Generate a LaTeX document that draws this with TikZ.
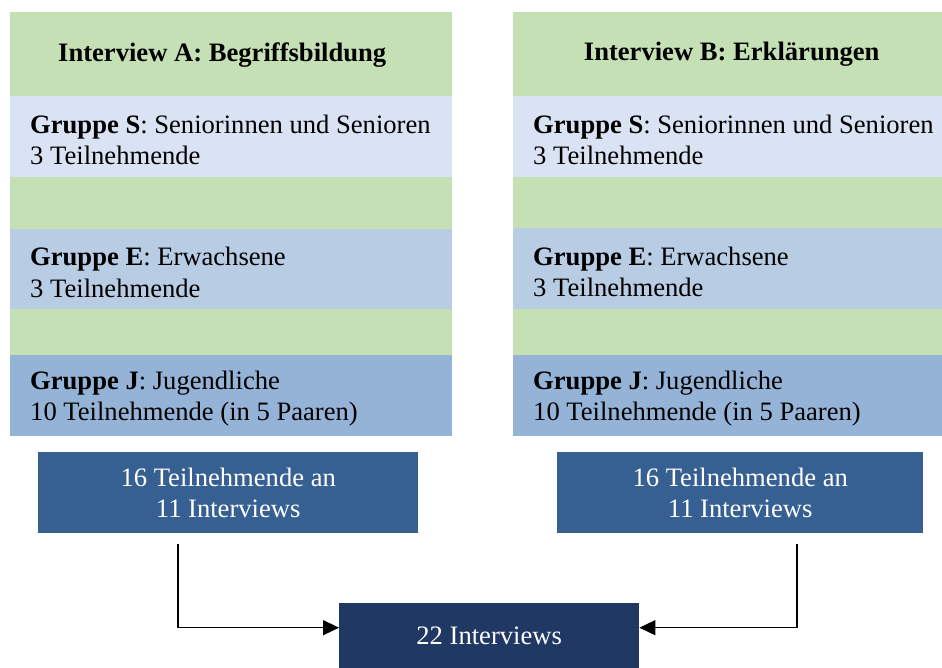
\documentclass[tikz,border=0pt]{standalone}
\usepackage{fontspec}
\setmainfont{Liberation Serif}
\usetikzlibrary{arrows.meta}
\definecolor{bandgreen}{HTML}{C5E0B4}
\definecolor{bandS}{HTML}{DAE3F3}
\definecolor{bandE}{HTML}{B8CCE4}
\definecolor{bandJ}{HTML}{95B3D7}
\definecolor{sumblue}{HTML}{376092}
\definecolor{totalblue}{HTML}{203864}
\begin{document}
\begin{tikzpicture}[x=1pt,y=-1pt,
  font=\fontsize{26.6}{31.5}\selectfont,
  band/.style={draw=none, inner sep=0, anchor=north west, minimum width=#1},
  bandA/.style={band=442},
  bandB/.style={band=429},
  head/.style={inner sep=0, font=\fontsize{26.6}{31.5}\selectfont\bfseries},
  lbl/.style={inner sep=0, anchor=west, align=left, xshift=20pt},
  sumbox/.style={draw=none, fill=sumblue, text=white, align=center, inner sep=0,
    minimum height=81, anchor=north west},
  arr/.style={draw=black, line width=1.4pt,
    -{Triangle[length=16pt,width=15pt]}},
]
\useasboundingbox (0,0) rectangle (942,668);

% ---- column A ----
\node[bandA, fill=bandgreen, minimum height=84] (hA) at (10,12) {};
\node[head] (hAt) at ([xshift=-9pt,yshift=-1pt]hA.center) {Interview A: Begriffsbildung};
\node[bandA, fill=bandS, minimum height=81] (sA) at (10,96) {};
\node[bandA, fill=bandgreen, minimum height=52] (g1A) at (10,177) {};
\node[bandA, fill=bandE, minimum height=80] (eA) at (10,229) {};
\node[bandA, fill=bandgreen, minimum height=46] (g2A) at (10,309) {};
\node[bandA, fill=bandJ, minimum height=81] (jA) at (10,355) {};
\node[lbl] (sAt) at ([yshift=-3pt]sA.west) {\textbf{Gruppe S}: Seniorinnen und Senioren\\3 Teilnehmende};
\node[lbl] (eAt) at ([yshift=-3pt]eA.west) {\textbf{Gruppe E}: Erwachsene\\3 Teilnehmende};
\node[lbl] (jAt) at ([yshift=-3pt]jA.west) {\textbf{Gruppe J}: Jugendliche\\10 Teilnehmende (in 5 Paaren)};

% ---- column B ----
\node[bandB, fill=bandgreen, minimum height=84] (hB) at (513,12) {};
\node[head] (hBt) at ([xshift=4pt,yshift=0pt]hB.center) {Interview B: Erklärungen};
\node[bandB, fill=bandS, minimum height=81] (sB) at (513,96) {};
\node[bandB, fill=bandgreen, minimum height=52] (g1B) at (513,177) {};
\node[bandB, fill=bandE, minimum height=81] (eB) at (513,228) {};
\node[bandB, fill=bandgreen, minimum height=46] (g2B) at (513,309) {};
\node[bandB, fill=bandJ, minimum height=81] (jB) at (513,355) {};
\node[lbl] (sBt) at ([yshift=-3pt]sB.west) {\textbf{Gruppe S}: Seniorinnen und Senioren\\3 Teilnehmende};
\node[lbl] (eBt) at ([yshift=-3pt]eB.west) {\textbf{Gruppe E}: Erwachsene\\3 Teilnehmende};
\node[lbl] (jBt) at ([yshift=-3pt]jB.west) {\textbf{Gruppe J}: Jugendliche\\10 Teilnehmende (in 5 Paaren)};

% ---- totals ----
\node[sumbox, minimum width=380] (sumA) at (38,452) {16 Teilnehmende an\\11 Interviews};
\node[sumbox, minimum width=366] (sumB) at (557,452) {16 Teilnehmende an\\11 Interviews};
\node[sumbox, fill=totalblue, minimum width=300, minimum height=65] (total) at (339,603) {\raisebox{-3pt}{22 Interviews}};

% ---- connectors ----
\coordinate (aStart) at (178,544);
\coordinate (bStart) at (797,544);
\draw[arr] (aStart) |- ([yshift=8pt]total.west);
\draw[arr] (bStart) |- ([yshift=8pt]total.east);
\end{tikzpicture}
\end{document}
